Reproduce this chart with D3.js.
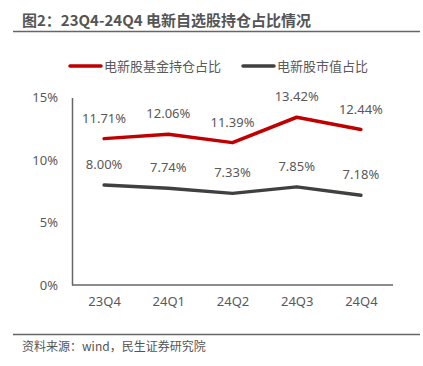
<!DOCTYPE html>
<html>
<head>
<meta charset="utf-8">
<script src="https://cdn.jsdelivr.net/npm/d3@7"></script>
<style>
  body { margin: 0; background: #fff; }
  text { font-family: "Noto Sans CJK SC", "Noto Sans", sans-serif; }
</style>
</head>
<body>
<div id="chart"></div>
<script>
// data
var quarters = ["23Q4", "24Q1", "24Q2", "24Q3", "24Q4"];
var fundShare = [11.71, 12.06, 11.39, 13.42, 12.44];
var marketShare = [8.00, 7.74, 7.33, 7.85, 7.18];
var yTicks = [0, 5, 10, 15];
var seriesNames = ["电新股基金持仓占比", "电新股市值占比"];

var width = 423, height = 366;
var textColor = "#595959";
var colors = ["#c00000", "#404040"];

var svg = d3.select("#chart")
    .append("svg")
    .attr("width", width)
    .attr("height", height);

// title + rules
svg.append("text")
    .attr("x", 22)
    .attr("y", 26)
    .text("图2：23Q4-24Q4 电新自选股持仓占比情况")
    .style("font-size", "15px")
    .style("font-weight", "bold")
    .style("fill", "#555");

svg.append("line")
    .attr("x1", 13).attr("x2", 420)
    .attr("y1", 31.5).attr("y2", 31.5)
    .attr("stroke", "#666").attr("stroke-width", 1.5);

svg.append("line")
    .attr("x1", 13).attr("x2", 420)
    .attr("y1", 334.5).attr("y2", 334.5)
    .attr("stroke", "#666").attr("stroke-width", 1.5);

svg.append("text")
    .attr("x", 22)
    .attr("y", 351)
    .text("资料来源：wind，民生证券研究院")
    .style("font-size", "12px")
    .style("fill", "#555");

// scales
var x = d3.scalePoint()
    .domain(quarters)
    .range([72, 393])
    .padding(0.5);

var y = d3.scaleLinear()
    .domain([0, 15])
    .range([285, 97.5]);

// y axis
var yAxis = svg.append("g")
    .attr("transform", "translate(72,0)")
    .call(d3.axisLeft(y).tickValues(yTicks).tickSize(0).tickPadding(14)
        .tickFormat(function (d) { return d + "%"; }));
yAxis.select(".domain").attr("stroke", "#666").attr("stroke-width", 1.5);
yAxis.selectAll("text")
    .style("font-size", "13px")
    .style("fill", textColor)
    .style("font-family", "'Noto Sans', sans-serif");

// x axis
var xAxis = svg.append("g")
    .attr("transform", "translate(0,285)")
    .call(d3.axisBottom(x).tickSize(0).tickPadding(12));
xAxis.select(".domain")
    .attr("d", "M72,0H393")
    .attr("stroke", "#666").attr("stroke-width", 1.5);
xAxis.selectAll("text")
    .style("font-size", "13px")
    .style("fill", textColor)
    .style("font-family", "'Noto Sans', sans-serif");

// lines
var series = [fundShare, marketShare];
var line = d3.line()
    .x(function (d, i) { return x(quarters[i]); })
    .y(function (d) { return y(d); });

series.forEach(function (vals, s) {
    svg.append("path")
        .datum(vals)
        .attr("fill", "none")
        .attr("stroke", colors[s])
        .attr("stroke-width", 3.5)
        .attr("stroke-linecap", "round")
        .attr("stroke-linejoin", "round")
        .attr("d", line);

    svg.selectAll(".lbl" + s)
        .data(vals)
        .enter()
        .append("text")
        .attr("x", function (d, i) { return x(quarters[i]); })
        .attr("y", function (d) { return y(d) - 16; })
        .attr("text-anchor", "middle")
        .style("font-size", "13px")
        .style("fill", textColor)
        .style("font-family", "'Noto Sans', sans-serif")
        .text(function (d) { return d.toFixed(2) + "%"; });
});

// legend
var legendX = [70, 243];
series.forEach(function (vals, s) {
    var g = svg.append("g").attr("transform", "translate(" + legendX[s] + ",66)");
    g.append("line")
        .attr("x1", 0).attr("x2", 31)
        .attr("stroke", colors[s])
        .attr("stroke-width", 3.5)
        .attr("stroke-linecap", "round");
    g.append("text")
        .attr("x", 34)
        .attr("y", 4.5)
        .style("font-size", "13px")
        .style("fill", textColor)
        .text(seriesNames[s]);
});
</script>
</body>
</html>
